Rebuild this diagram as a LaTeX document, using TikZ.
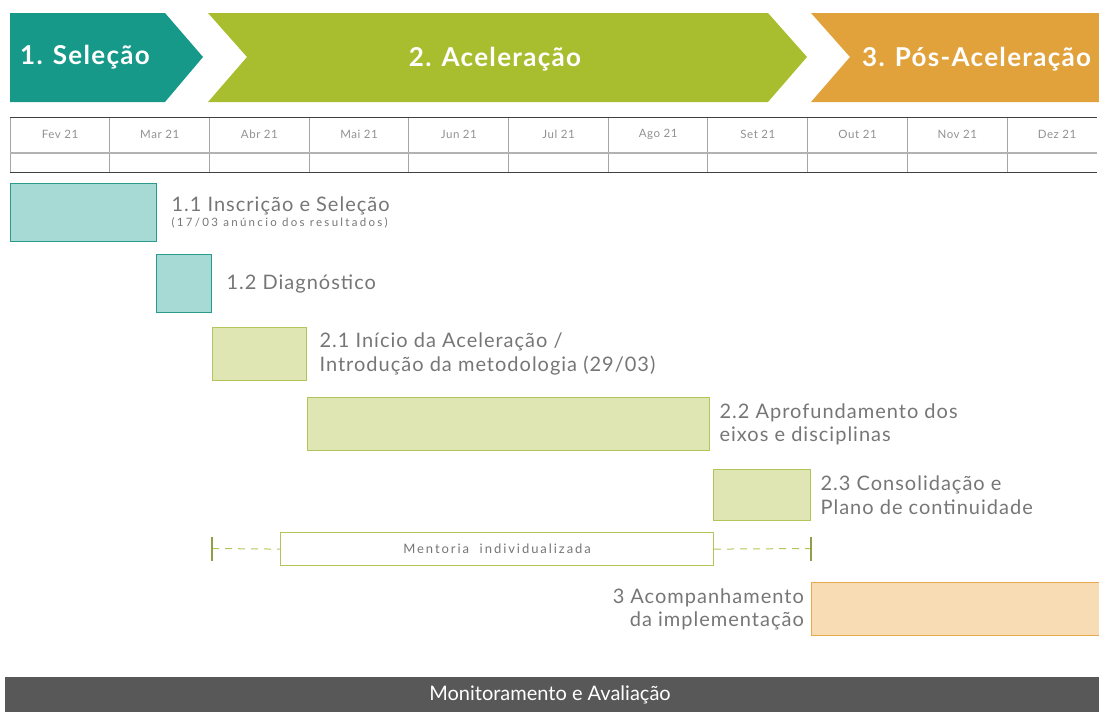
\documentclass[tikz,border=0pt]{standalone}
\usepackage{fontspec}
\setmainfont{Lato}
\newfontfamily\labelfont{Lato}[LetterSpace=5]
\newfontfamily\widefont{Lato}[LetterSpace=15]
\newfontfamily\tinyfont{Lato}[LetterSpace=20]
\newfontfamily\phasefont{Lato}[LetterSpace=5]
\usetikzlibrary{positioning}
\definecolor{SelTeal}{HTML}{17998A}
\definecolor{AcelGreen}{HTML}{A9BE2F}
\definecolor{PosOrange}{HTML}{E2A23B}
\definecolor{TealFill}{HTML}{A7DAD5}
\definecolor{TealLine}{HTML}{2A9A8C}
\definecolor{GreenFill}{HTML}{DFE6B4}
\definecolor{GreenLine}{HTML}{B3C55A}
\definecolor{PeachFill}{HTML}{F8DDB4}
\definecolor{PeachLine}{HTML}{E6A94E}
\definecolor{LabelGrey}{HTML}{767676}
\definecolor{BarGrey}{HTML}{585858}

\begin{document}
\begin{tikzpicture}[x=1pt, y=-1pt,
        phasetext/.style={text=white, font=\phasefont\fontsize{26}{28}\selectfont\bfseries, inner sep=0pt},
        monthtext/.style={text=LabelGrey!80, font=\labelfont\fontsize{11.5}{12}\selectfont},
        tealbar/.style={rectangle, draw=TealLine, fill=TealFill, line width=1.4pt, anchor=north west, inner sep=0pt},
        greenbar/.style={rectangle, draw=GreenLine, fill=GreenFill, line width=1.4pt, anchor=north west, inner sep=0pt},
        peachbar/.style={rectangle, draw=PeachLine, fill=PeachFill, line width=1.4pt, anchor=north west, inner sep=0pt},
        bartext/.style={text=LabelGrey, font=\labelfont\fontsize{20}{23.5}\selectfont, inner sep=0pt},
        mentorbox/.style={rectangle, draw=GreenLine, fill=white, line width=1.2pt, anchor=north west, inner sep=0pt,
            text=LabelGrey, font=\widefont\fontsize{13}{14}\selectfont},
        dashline/.style={dash pattern=on 7pt off 6pt, GreenLine, line width=1pt},
        tickmark/.style={GreenLine!80!black, line width=1.6pt}]

    \useasboundingbox (0,0) rectangle (1099,712);
    \clip (0,0) rectangle (1099,712);

    % phase chevrons
    \fill[SelTeal] (10,13) -- (165,13) -- (203,57) -- (165,102) -- (10,102) -- cycle;
    \fill[AcelGreen] (208,13) -- (768,13) -- (807,57) -- (768,102) -- (208,102) -- (247,57) -- cycle;
    \fill[PosOrange] (811,13) -- (1110,13) -- (1110,102) -- (811,102) -- (850,57) -- cycle;
    \node[phasetext, anchor=west] (sel) at (20,57) {1. Seleção};
    \node[phasetext] (acel) at (495,59) {2. Aceleração};
    \node[phasetext, anchor=west] (pos) at (862,59) {3. Pós-Aceleração};

    % month grid
    \foreach \i in {0,...,11}
        \draw[gray!70, line width=1pt] (10+99.7*\i,117) -- (10+99.7*\i,172);
    \draw[gray!60, line width=1.8pt] (10,153) -- (1097,153);
    \draw[black!75, line width=1pt] (10,117) -- (1097,117);
    \draw[black!75, line width=1pt] (10,172) -- (1097,172);
    \foreach \m [count=\i from 0] in {Fev 21, Mar 21, Abr 21, Mai 21, Jun 21, Jul 21, Ago 21, Set 21, Out 21, Nov 21, Dez 21}
        \node[monthtext] (month\i) at (60+99.7*\i,134) {\m};

    % activities
    \node[tealbar, minimum width=146pt, minimum height=58pt] (insc) at (10,183) {};
    \node[bartext, align=left, right=14pt of insc] (insclabel)
        {1.1 Inscrição e Seleção\\[-9pt]{\tinyfont\fontsize{11.5}{12}\selectfont(17/03 anúncio dos resultados)}};
    \node[tealbar, minimum width=55pt, minimum height=58pt] (diag) at (156,254) {};
    \node[bartext, right=14pt of diag] (diaglabel) {1.2 Diagnóstico};
    \node[greenbar, minimum width=94pt, minimum height=53pt] (inicio) at (212,327) {};
    \node[bartext, align=left, right=12pt of inicio] (iniciolabel)
        {2.1 Início da Aceleração /\\Introdução da metodologia (29/03)};
    \node[greenbar, minimum width=402pt, minimum height=53pt] (aprof) at (307,397) {};
    \node[bartext, align=left, right=9pt of aprof] (aproflabel)
        {2.2 Aprofundamento dos\\eixos e disciplinas};
    \node[greenbar, minimum width=97pt, minimum height=51pt] (consol) at (713,469) {};
    \node[bartext, align=left, right=9pt of consol] (consollabel)
        {2.3 Consolidação e\\Plano de continuidade};

    % mentoria
    \node[mentorbox, minimum width=433pt, minimum height=33pt] (mentor) at (280,532) {Mentoria\ \ individualizada};
    \coordinate (mentorstart) at (212,548.5);
    \coordinate (mentorend) at (811,548.5);
    \draw[dashline] (mentorstart) -- (mentor.west);
    \draw[dashline] (mentor.east) -- (mentorend);
    \draw[tickmark] ([yshift=12pt]mentorstart) -- ([yshift=-12pt]mentorstart);
    \draw[tickmark] ([yshift=12pt]mentorend) -- ([yshift=-12pt]mentorend);

    % pos-aceleracao
    \node[peachbar, minimum width=300pt, minimum height=53pt] (acomp) at (811,582) {};
    \node[bartext, align=right, left=7pt of acomp] (acomplabel)
        {3 Acompanhamento\\da implementação};

    % monitoring bar
    \fill[BarGrey] (5,677) rectangle (1110,712);
    \node[text=white, font=\fontsize{20}{22}\selectfont] (monit) at (550,695) {Monitoramento e Avaliação};
\end{tikzpicture}
\end{document}
